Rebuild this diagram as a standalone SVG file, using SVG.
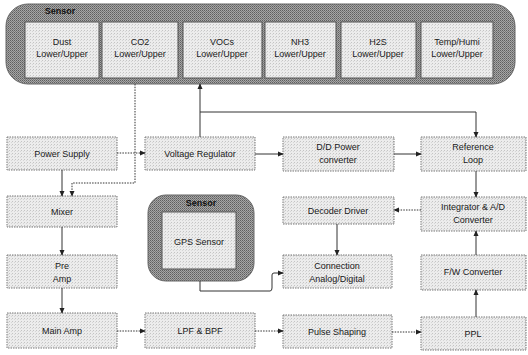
<svg xmlns="http://www.w3.org/2000/svg" width="528" height="355" viewBox="0 0 528 355">
<defs>
<pattern id="dk" width="2" height="2" patternUnits="userSpaceOnUse">
<rect width="2" height="2" fill="#a6a6a6"/><rect width="1" height="1" fill="#5e5e5e"/><rect x="1" y="1" width="1" height="1" fill="#787878"/>
</pattern>
<pattern id="lt" width="3" height="3" patternUnits="userSpaceOnUse">
<rect width="3" height="3" fill="#ececec"/><rect width="1" height="1" fill="#c4c4c4"/><rect x="2" y="1" width="1" height="1" fill="#d6d6d6"/>
</pattern>
<marker id="ah" viewBox="0 0 8 8" refX="7" refY="4" markerWidth="6" markerHeight="6" orient="auto" markerUnits="userSpaceOnUse">
<path d="M0,0.5 L8,4 L0,7.5 z" fill="#222"/>
</marker>
</defs>
<style>
text{font-family:"Liberation Sans",Arial,sans-serif;font-size:9px;fill:#1a1a1a;text-anchor:middle}
.box{fill:url(#lt);stroke:#777;stroke-width:1;stroke-dasharray:1.5 1}
.dark{fill:url(#dk);stroke:#666;stroke-width:1}
.in{fill:url(#lt);stroke:#555;stroke-width:1}
.lbl{font-weight:bold;font-size:9px;fill:#111}
.c{fill:none;stroke:#333;stroke-width:1;marker-end:url(#ah)}
.d{fill:none;stroke:#333;stroke-width:1;stroke-dasharray:1.5 1.2;marker-end:url(#ah)}
</style>
<g id="sensor-bar">
<rect class="dark" x="6" y="4" width="509" height="80" rx="22" ry="22"/>
<text class="lbl" x="60" y="14">Sensor</text>
</g>
<g id="dust"><rect class="in" x="25" y="22" width="74" height="56"/><text x="62" y="45">Dust</text><text x="62" y="57">Lower/Upper</text></g>
<g id="co2"><rect class="in" x="102" y="22" width="76" height="56"/><text x="140" y="45">CO2</text><text x="140" y="57">Lower/Upper</text></g>
<g id="vocs"><rect class="in" x="183" y="22" width="79" height="56"/><text x="222" y="45">VOCs</text><text x="222" y="57">Lower/Upper</text></g>
<g id="nh3"><rect class="in" x="265" y="22" width="71" height="56"/><text x="300" y="45">NH3</text><text x="300" y="57">Lower/Upper</text></g>
<g id="h2s"><rect class="in" x="341" y="22" width="75" height="56"/><text x="378" y="45">H2S</text><text x="378" y="57">Lower/Upper</text></g>
<g id="temphumi"><rect class="in" x="421" y="22" width="72" height="56"/><text x="457" y="45">Temp/Humi</text><text x="457" y="57">Lower/Upper</text></g>

<g id="power-supply"><rect class="box" x="7" y="137" width="110" height="33"/><text x="62" y="157">Power Supply</text></g>
<g id="voltage-regulator"><rect class="box" x="145" y="137" width="110" height="33"/><text x="200" y="157">Voltage Regulator</text></g>
<g id="dd-power"><rect class="box" x="283" y="137" width="111" height="34"/><text x="338" y="150">D/D Power</text><text x="338" y="163">converter</text></g>
<g id="reference-loop"><rect class="box" x="421" y="137" width="105" height="34"/><text x="473" y="150">Reference</text><text x="473" y="163">Loop</text></g>

<g id="mixer"><rect class="box" x="7" y="196" width="110" height="31"/><text x="62" y="215">Mixer</text></g>
<g id="decoder-driver"><rect class="box" x="283" y="197" width="111" height="27"/><text x="338" y="214">Decoder Driver</text></g>
<g id="integrator"><rect class="box" x="421" y="197" width="105" height="34"/><text x="473" y="210">Integrator &amp; A/D</text><text x="473" y="223">Converter</text></g>

<g id="gps-sensor">
<rect class="dark" x="148" y="195" width="106" height="86" rx="18" ry="18"/>
<text class="lbl" x="201" y="206">Sensor</text>
<rect class="in" x="162" y="212" width="74" height="57"/>
<text x="199" y="245">GPS Sensor</text>
</g>

<g id="pre-amp"><rect class="box" x="7" y="255" width="110" height="33"/><text x="62" y="269">Pre</text><text x="62" y="282">Amp</text></g>
<g id="connection"><rect class="box" x="283" y="255" width="109" height="33"/><text x="337" y="269">Connection</text><text x="337" y="282">Analog/Digital</text></g>
<g id="fw-converter"><rect class="box" x="421" y="255" width="105" height="35"/><text x="473" y="275">F/W Converter</text></g>

<g id="main-amp"><rect class="box" x="7" y="313" width="110" height="35"/><text x="62" y="334">Main Amp</text></g>
<g id="lpf-bpf"><rect class="box" x="145" y="313" width="110" height="35"/><text x="200" y="334">LPF &amp; BPF</text></g>
<g id="pulse-shaping"><rect class="box" x="283" y="315" width="109" height="33"/><text x="337" y="335">Pulse Shaping</text></g>
<g id="ppl"><rect class="box" x="421" y="317" width="105" height="33"/><text x="473" y="337">PPL</text></g>

<g id="connectors">
<path class="d" d="M135,84 V183 H72 V196"/>
<path class="d" d="M117,153 H145"/>
<path class="c" d="M62,170 V196"/>
<path class="c" d="M200,137 V84"/>
<path class="c" d="M200,112 H476 V137"/>
<path class="c" d="M255,154 H283"/>
<path class="c" d="M394,154 H421"/>
<path class="c" d="M476,171 V197"/>
<path class="d" d="M421,210 H394"/>
<path class="c" d="M337,224 V255"/>
<path class="c" d="M200,281 V291 H270 Q272,291 272,288 V275 Q272,273 274,273 H283"/>
<path class="c" d="M62,227 V255"/>
<path class="c" d="M62,288 V313"/>
<path class="d" d="M117,331 H145"/>
<path class="d" d="M255,331 H283"/>
<path class="d" d="M392,332 H421"/>
<path class="c" d="M476,317 V290"/>
<path class="c" d="M476,255 V231"/>
</g>
</svg>
